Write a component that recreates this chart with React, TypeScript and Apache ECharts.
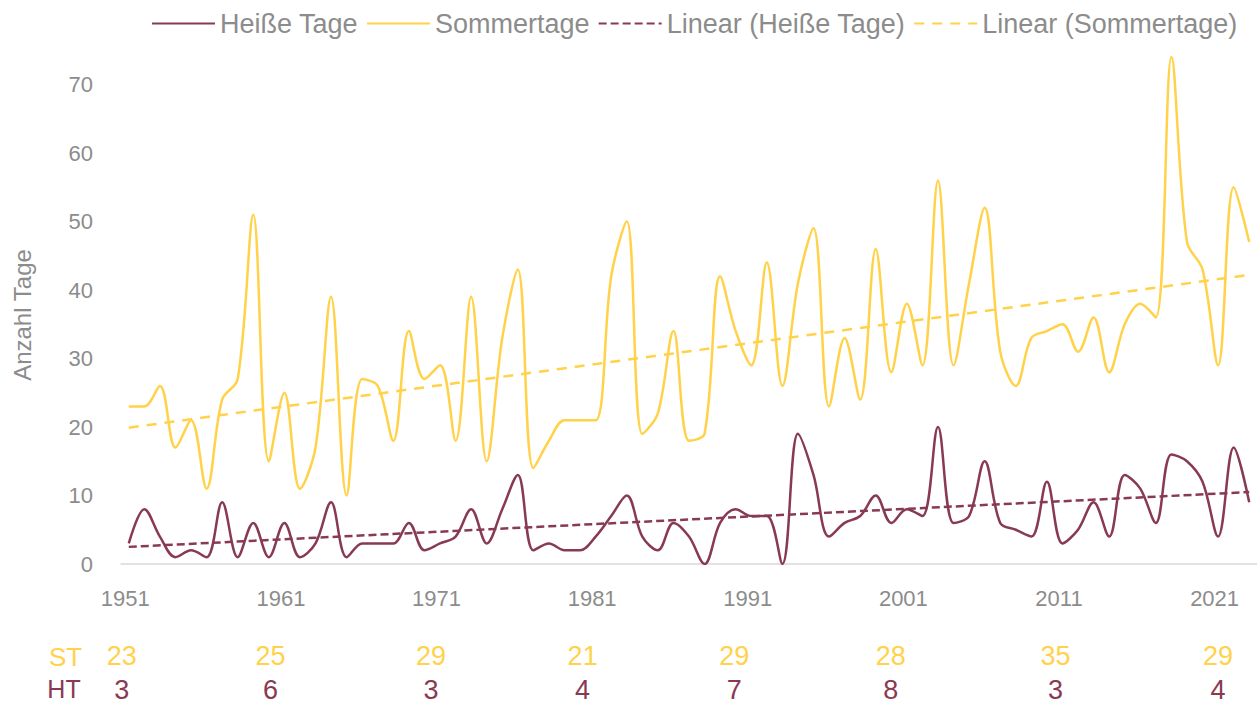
import React, { useEffect, useRef } from "react";
import * as echarts from "echarts";

// Categories: years 1951–2023
const years: string[] = Array.from({ length: 73 }, (_, i) => String(1951 + i));

// Sommertage (summer days) per year
const sommertage: number[] = [
  23, 23, 26, 17, 21, 11, 24, 27, 51, 15,
  25, 11, 17, 39, 10, 27, 26, 18, 34, 27,
  29, 18, 39, 15, 33, 43, 14, 18, 21, 21,
  21, 42, 50, 19, 22, 34, 18, 19, 42, 34,
  29, 44, 26, 41, 49, 23, 33, 24, 46, 28,
  38, 29, 56, 29, 41, 52, 31, 26, 33, 34,
  35, 31, 36, 28, 35, 38, 36, 74, 47, 43,
  29, 55, 47,
];

// Heiße Tage (hot days) per year
const heisseTage: number[] = [
  3, 8, 4, 1, 2, 1, 9, 1, 6, 1,
  6, 1, 3, 9, 1, 3, 3, 3, 6, 2,
  3, 4, 8, 3, 8, 13, 2, 3, 2, 2,
  4, 7, 10, 4, 2, 6, 4, 0, 6, 8,
  7, 7, 0, 19, 13, 4, 6, 7, 10, 6,
  8, 7, 20, 6, 7, 15, 6, 5, 4, 12,
  3, 5, 9, 4, 13, 11, 6, 16, 15, 12,
  4, 17, 9,
];

// Linear trend end points
const trendYears: string[] = ["1951", "2023"];
const sommertageTrend: number[] = [19.9, 42.2];
const heisseTageTrend: number[] = [2.5, 10.5];

// Table below the chart
const tableYears: string[] = ["1951", "1961", "1971", "1981", "1991", "2001", "2011", "2021"];
const tableST: number[] = [23, 25, 29, 21, 29, 28, 35, 29];
const tableHT: number[] = [3, 6, 3, 4, 7, 8, 3, 4];

// Layout nudges (px) of the table cells relative to their year
const tableNudge: number[] = [-7, -14, -9, -13, -17, -16, -7, 0];

const YELLOW = "#FFD24A";
const MAROON = "#883A52";
const GRAY = "#8C8C8C";
const FONT = "'Liberation Sans', Arial, sans-serif";

function tableRich(color: string) {
  const rich: Record<string, any> = {};
  tableNudge.forEach((n, k) => {
    rich["n" + k] = {
      color,
      fontSize: 27,
      fontFamily: FONT,
      padding: n < 0 ? [0, -2 * n, 0, 0] : [0, 0, 0, 2 * n],
    };
  });
  return rich;
}

function tableAxis(values: number[], color: string, offset: number) {
  return {
    type: "category",
    data: years,
    gridIndex: 0,
    position: "bottom",
    offset,
    boundaryGap: true,
    axisLine: { show: false },
    axisTick: { show: false },
    splitLine: { show: false },
    axisLabel: {
      interval: 9,
      margin: 8,
      fontSize: 27,
      color,
      fontFamily: FONT,
      formatter: (v: string) => {
        const k = tableYears.indexOf(v);
        return k < 0 ? "" : `{n${k}|${values[k]}}`;
      },
      rich: tableRich(color),
    },
  };
}

export default function App() {
  const ref = useRef<HTMLDivElement>(null);

  useEffect(() => {
    if (!ref.current) return;
    const chart = echarts.init(ref.current, undefined, { renderer: "svg" });
    chart.setOption({
      animation: false,
      backgroundColor: "#ffffff",
      textStyle: { fontFamily: FONT },
      legend: {
        left: 146,
        top: 5,
        itemWidth: 63,
        itemHeight: 14,
        itemGap: 8,
        itemStyle: { opacity: 0 },
        textStyle: { color: GRAY, fontSize: 27, fontFamily: FONT },
        data: ["Heiße Tage", "Sommertage", "Linear (Heiße Tage)", "Linear (Sommertage)"],
      },
      grid: { left: 121, right: -3.5, top: 16, bottom: 137.5, containLabel: false },
      xAxis: [
        {
          type: "category",
          data: years,
          boundaryGap: true,
          axisLine: { show: true, lineStyle: { color: "#D9D9D9", width: 1.5 } },
          axisTick: { show: false },
          splitLine: { show: false },
          axisLabel: {
            interval: 9,
            margin: 23,
            fontSize: 22,
            color: GRAY,
            fontFamily: FONT,
            padding: [0, 7, 0, 0],
          },
        },
        tableAxis(tableST, YELLOW, 70),
        tableAxis(tableHT, MAROON, 104),
      ],
      yAxis: {
        type: "value",
        min: 0,
        max: 80,
        interval: 10,
        axisLine: { show: false },
        axisTick: { show: false },
        splitLine: { show: false },
        axisLabel: {
          margin: 28,
          fontSize: 22,
          color: GRAY,
          fontFamily: FONT,
          formatter: (v: number) => (v === 80 ? "" : String(v)),
        },
      },
      series: [
        {
          name: "Heiße Tage",
          type: "line",
          xAxisIndex: 0,
          data: heisseTage,
          smooth: 0.35,
          symbol: "none",
          lineStyle: { color: MAROON, width: 2.5 },
          itemStyle: { color: MAROON },
        },
        {
          name: "Sommertage",
          type: "line",
          xAxisIndex: 0,
          data: sommertage,
          smooth: 0.35,
          symbol: "none",
          lineStyle: { color: YELLOW, width: 2.5 },
          itemStyle: { color: YELLOW },
        },
        {
          name: "Linear (Heiße Tage)",
          type: "line",
          xAxisIndex: 0,
          data: trendYears.map((y, i) => [y, heisseTageTrend[i]]),
          symbol: "none",
          lineStyle: { color: MAROON, width: 2.5, type: [8, 4] },
          itemStyle: { color: MAROON },
        },
        {
          name: "Linear (Sommertage)",
          type: "line",
          xAxisIndex: 0,
          data: trendYears.map((y, i) => [y, sommertageTrend[i]]),
          symbol: "none",
          lineStyle: { color: YELLOW, width: 2.5, type: [10, 8] },
          itemStyle: { color: YELLOW },
        },
      ],
      graphic: [
        {
          type: "text",
          x: 22.5,
          y: 315,
          rotation: Math.PI / 2,
          style: {
            text: "Anzahl Tage",
            fill: GRAY,
            fontSize: 24,
            fontFamily: FONT,
            align: "center",
            verticalAlign: "middle",
          },
        },
        {
          type: "text",
          x: 65.5,
          y: 656.5,
          style: {
            text: "ST",
            fill: YELLOW,
            fontSize: 26,
            fontFamily: FONT,
            align: "center",
            verticalAlign: "middle",
          },
        },
        {
          type: "text",
          x: 64,
          y: 689,
          style: {
            text: "HT",
            fill: MAROON,
            fontSize: 25,
            fontFamily: FONT,
            align: "center",
            verticalAlign: "middle",
          },
        },
      ],
    });
    return () => chart.dispose();
  }, []);

  return (
    <div
      ref={ref}
      style={{ position: "absolute", left: 0, top: 0, width: 1257, height: 703 }}
    />
  );
}
